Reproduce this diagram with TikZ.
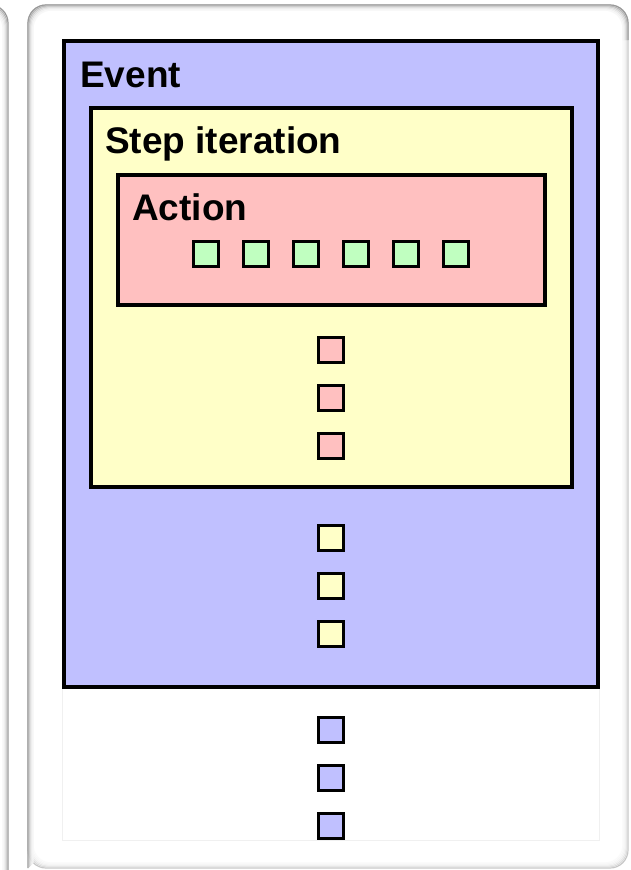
\documentclass[tikz,border=0pt]{standalone}
\usepackage{fontspec}
\setmainfont{Liberation Sans}
\definecolor{evblue}{HTML}{C0C0FF}
\definecolor{styellow}{HTML}{FFFFC8}
\definecolor{acpink}{HTML}{FFC0C0}
\definecolor{grgreen}{HTML}{C0FFC0}
\begin{document}
\begin{tikzpicture}[x=1pt,y=-1pt,
  box/.style={draw=black, line width=3.2pt},
  sq/.style={draw=black, line width=3pt, minimum size=25pt, inner sep=0pt, outer sep=0pt},
  lbl/.style={anchor=base west, inner sep=0pt, font=\fontsize{37}{41}\selectfont\bfseries},
  panelrim/.style={line width=1.2pt, rounded corners=18pt}]
\useasboundingbox (0,0) rectangle (630,870);
\fill[white] (0,0) rectangle (630,870);

% neighbouring panel, only its right rim shows
\foreach \i/\c in {0/40,1/28,2/18,3/11,4/6,5/3}
  \draw[panelrim, black!\c] (-400+\i,5+\i) rectangle (8-\i,900);

% main panel: faint rim all round, stronger along top and left
\fill[white, rounded corners=18pt] (28,5) rectangle (628,868);
\foreach \i/\c in {0/22,1/14,2/9,3/5,4/3,5/2}
  \draw[panelrim, black!\c] (28+\i,5+\i) rectangle (628-\i,868-\i);
\foreach \i/\c in {0/40,1/28,2/18,3/11,4/6,5/3}
  \draw[panelrim, black!\c] (28+\i,868-\i) -- (28+\i,5+\i) -- (628-\i,5+\i) -- (628-\i,40);

% canvas area
\draw[black!6, line width=0.8pt, fill=white] (62,40) rectangle (599,840);

% nested boxes
\draw[box, fill=evblue] (64,41) rectangle (598,687);
\draw[box, fill=styellow] (91,108) rectangle (572,487);
\draw[box, fill=acpink] (118,175) rectangle (545,305);

\node[lbl] (tEvent) at (80,87) {Event};
\node[lbl] (tStep) at (105,153) {Step iteration};
\node[lbl] (tAction) at (132,220) {Action};

% action items
\foreach \k in {1,...,6}
  \node[sq, fill=grgreen] (g\k) at (156+50*\k,254) {};

% step iterations
\foreach \k/\y in {1/350,2/398,3/446}
  \node[sq, fill=acpink] (p\k) at (331,\y) {};

% events
\foreach \k/\y in {1/538,2/586,3/634}
  \node[sq, fill=styellow] (y\k) at (331,\y) {};

% further events
\foreach \k/\y in {1/730,2/778,3/826}
  \node[sq, fill=evblue] (b\k) at (331,\y) {};
\end{tikzpicture}
\end{document}
